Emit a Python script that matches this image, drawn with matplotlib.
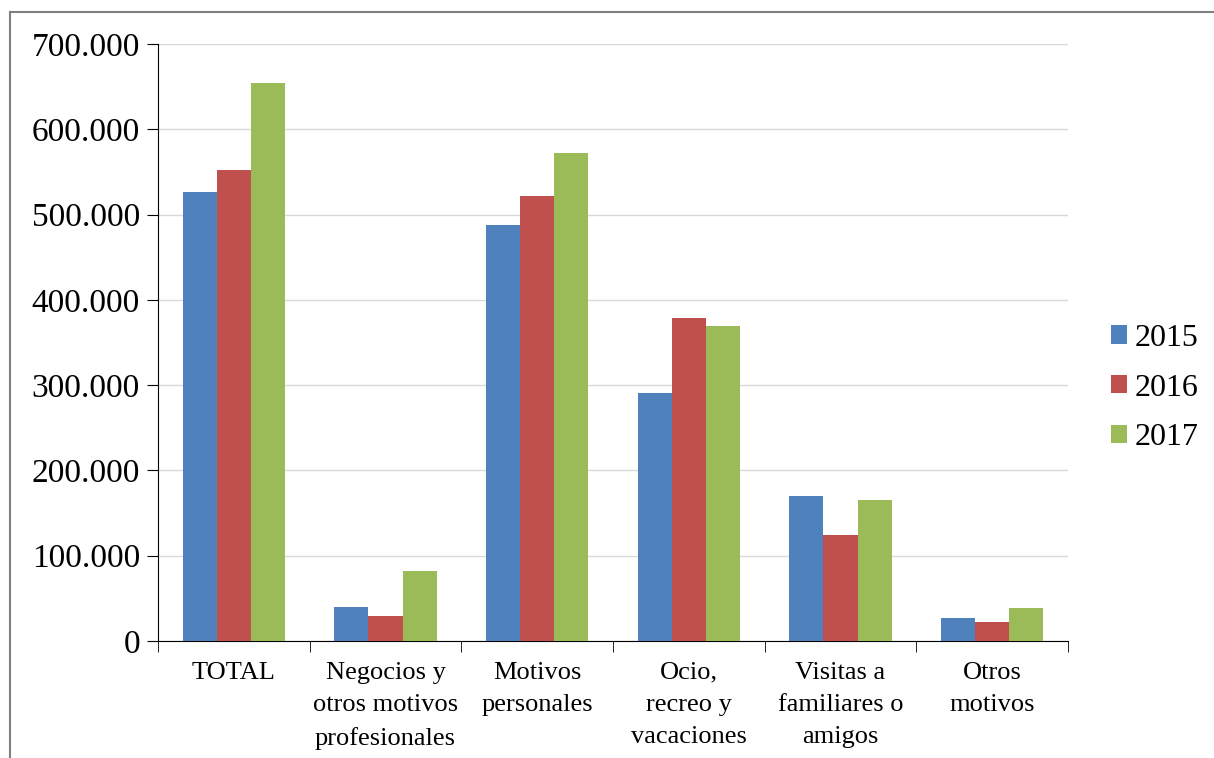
import matplotlib
matplotlib.use("Agg")
import matplotlib.pyplot as plt
import numpy as np
from matplotlib.lines import Line2D
from matplotlib.ticker import FuncFormatter, FixedLocator

categories = ["TOTAL", "Negocios y\notros motivos\nprofesionales", "Motivos\npersonales",
              "Ocio,\nrecreo y\nvacaciones", "Visitas a\nfamiliares o\namigos", "Otros\nmotivos"]
years = ["2015", "2016", "2017"]
v2015 = [526000, 40000, 488000, 291000, 170000, 27000]
v2016 = [552000, 29000, 522000, 379000, 124000, 22000]
v2017 = [654000, 82000, 572000, 369000, 165000, 39000]
colors = ["#4F81BD", "#C0504D", "#9BBB59"]

plt.rcParams['font.family'] = ['Liberation Serif', 'DejaVu Serif']

fig = plt.figure(figsize=(12.14, 7.58), dpi=100)
W, H = 1214, 758
ax = fig.add_axes([158 / W, 1 - 641 / H, (1068 - 158) / W, (641 - 44) / H])

x = np.arange(len(categories))
bw = 0.225
for i, (vals, c, y) in enumerate(zip([v2015, v2016, v2017], colors, years)):
    ax.bar(x + (i - 1) * bw, vals, bw, color=c, label=y, zorder=3)

ax.set_xlim(-0.5, len(categories) - 0.5)
ax.set_ylim(0, 700000)
ax.set_yticks(np.arange(0, 700001, 100000))
ax.yaxis.set_major_formatter(FuncFormatter(lambda v, p: "0" if v == 0 else f"{int(v):,}".replace(",", ".")))
ax.grid(axis='y', color='#D9D9D9', linewidth=1, zorder=0)
ax.tick_params(axis='y', labelsize=24, length=8, direction='out', color='black', pad=5)

ax.set_xticks(x)
ax.set_xticklabels(categories, fontsize=19)
for t in ax.get_xticklabels():
    t.set_linespacing(1.6)
ax.tick_params(axis='x', which='major', length=0, pad=15)
ax.xaxis.set_minor_locator(FixedLocator(np.arange(-0.5, len(categories))))
ax.tick_params(axis='x', which='minor', length=8, direction='out', color='black')

for s in ['top', 'right']:
    ax.spines[s].set_visible(False)
ax.spines['left'].set_color('black')
ax.spines['bottom'].set_color('black')

leg = ax.legend(loc='center left', bbox_to_anchor=(1111 / W, 1 - 388 / H),
                bbox_transform=fig.transFigure, frameon=False, fontsize=23,
                borderpad=0, borderaxespad=0,
                handlelength=0.5, handleheight=0.5, handletextpad=0.25, labelspacing=0.65)

# outer border (gray)
fig.add_artist(Line2D([10 / W, 10 / W], [0, 1 - 12 / H], color='#808080', linewidth=1.5))
fig.add_artist(Line2D([10 / W, 1], [1 - 12 / H, 1 - 12 / H], color='#808080', linewidth=1.5))

fig.savefig("out.png", dpi=100)
